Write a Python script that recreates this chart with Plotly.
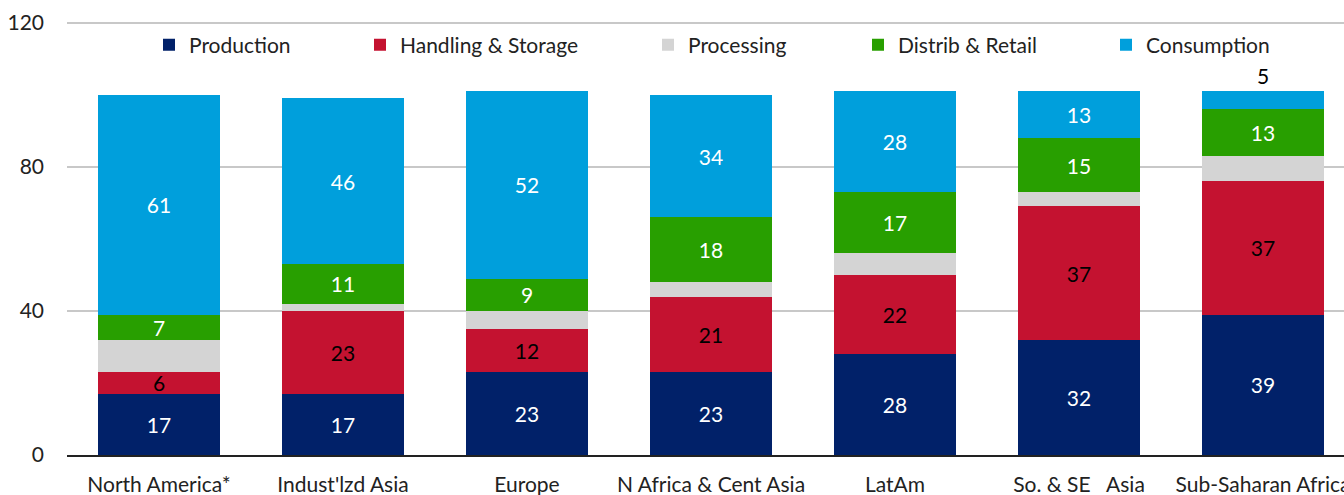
import plotly.graph_objects as go

regions = ["North America*", "Indust'lzd Asia", "Europe", "N Africa & Cent Asia",
           "LatAm", "So. & SE   Asia", "Sub-Saharan Africa"]
production = [17, 17, 23, 23, 28, 32, 39]
handling = [6, 23, 12, 21, 22, 37, 37]
processing = [9, 2, 5, 4, 6, 4, 7]
distrib = [7, 11, 9, 18, 17, 15, 13]
consumption = [61, 46, 52, 34, 28, 13, 5]

series = [
    ("Production", production, "#012169", "white", True),
    ("Handling & Storage", handling, "#C41230", "black", True),
    ("Processing", processing, "#D4D4D4", "black", False),
    ("Distrib & Retail", distrib, "#289F00", "white", True),
    ("Consumption", consumption, "#009FDC", "white", True),
]

FONT = "Lato, Roboto, sans-serif"
FS = 21
W, H = 1344, 495
L, R, T, B = 67, 0, 21, 40
PW, PH = W - L - R, H - T - B
legend_px = [149, 360, 648, 858, 1106]

fig = go.Figure()
for i, (name, vals, color, tcolor, show_text) in enumerate(series):
    lg = "legend" if i == 0 else f"legend{i+1}"
    kw = {}
    if show_text:
        if name == "Consumption":
            pos = ["inside" if v >= 8 else "outside" for v in vals]
        else:
            pos = "inside"
        kw = dict(text=[str(v) for v in vals], textposition=pos,
                  insidetextanchor="middle",
                  insidetextfont=dict(color=tcolor, size=FS, family=FONT),
                  outsidetextfont=dict(color="black", size=FS, family=FONT),
                  textangle=0, cliponaxis=False)
    fig.add_trace(go.Bar(x=regions, y=vals, name=name, marker_color=color,
                         marker_line_width=0, legend=lg, showlegend=True,
                         hoverinfo="skip", **kw))

layout_legends = {}
for i, lx in enumerate(legend_px):
    key = "legend" if i == 0 else f"legend{i+1}"
    layout_legends[key] = dict(x=(lx - L) / PW, xref="paper",
                               y=(H - B - 45) / PH, yref="paper",
                               xanchor="left", yanchor="middle", orientation="h",
                               bgcolor="rgba(0,0,0,0)", borderwidth=0,
                               font=dict(family=FONT, size=FS, color="#222"))

fig.update_layout(
    barmode="stack",
    bargap=0.337,
    width=W, height=H,
    showlegend=True,
    margin=dict(l=L, r=R, t=T, b=B, autoexpand=False),
    plot_bgcolor="white", paper_bgcolor="white",
    font=dict(family=FONT, size=FS, color="#222"),
    uniformtext=dict(minsize=FS, mode="show"),
    xaxis=dict(range=[-0.5, 6.44], showgrid=False, ticks="", showline=True,
               linecolor="#222", linewidth=2, ticklabelstandoff=10,
               tickfont=dict(family=FONT, size=FS, color="#222")),
    yaxis=dict(range=[0, 120.5], tickvals=[0, 40, 80, 120], showgrid=True,
               gridcolor="#C8C8C8", gridwidth=2, zeroline=False, ticks="",
               ticklabelstandoff=22,
               tickfont=dict(family=FONT, size=FS, color="#222")),
    **layout_legends,
)

fig.write_html("out.html", config={"displayModeBar": False},
               post_script="document.body.style.margin='0px';document.body.style.overflow='hidden';")
